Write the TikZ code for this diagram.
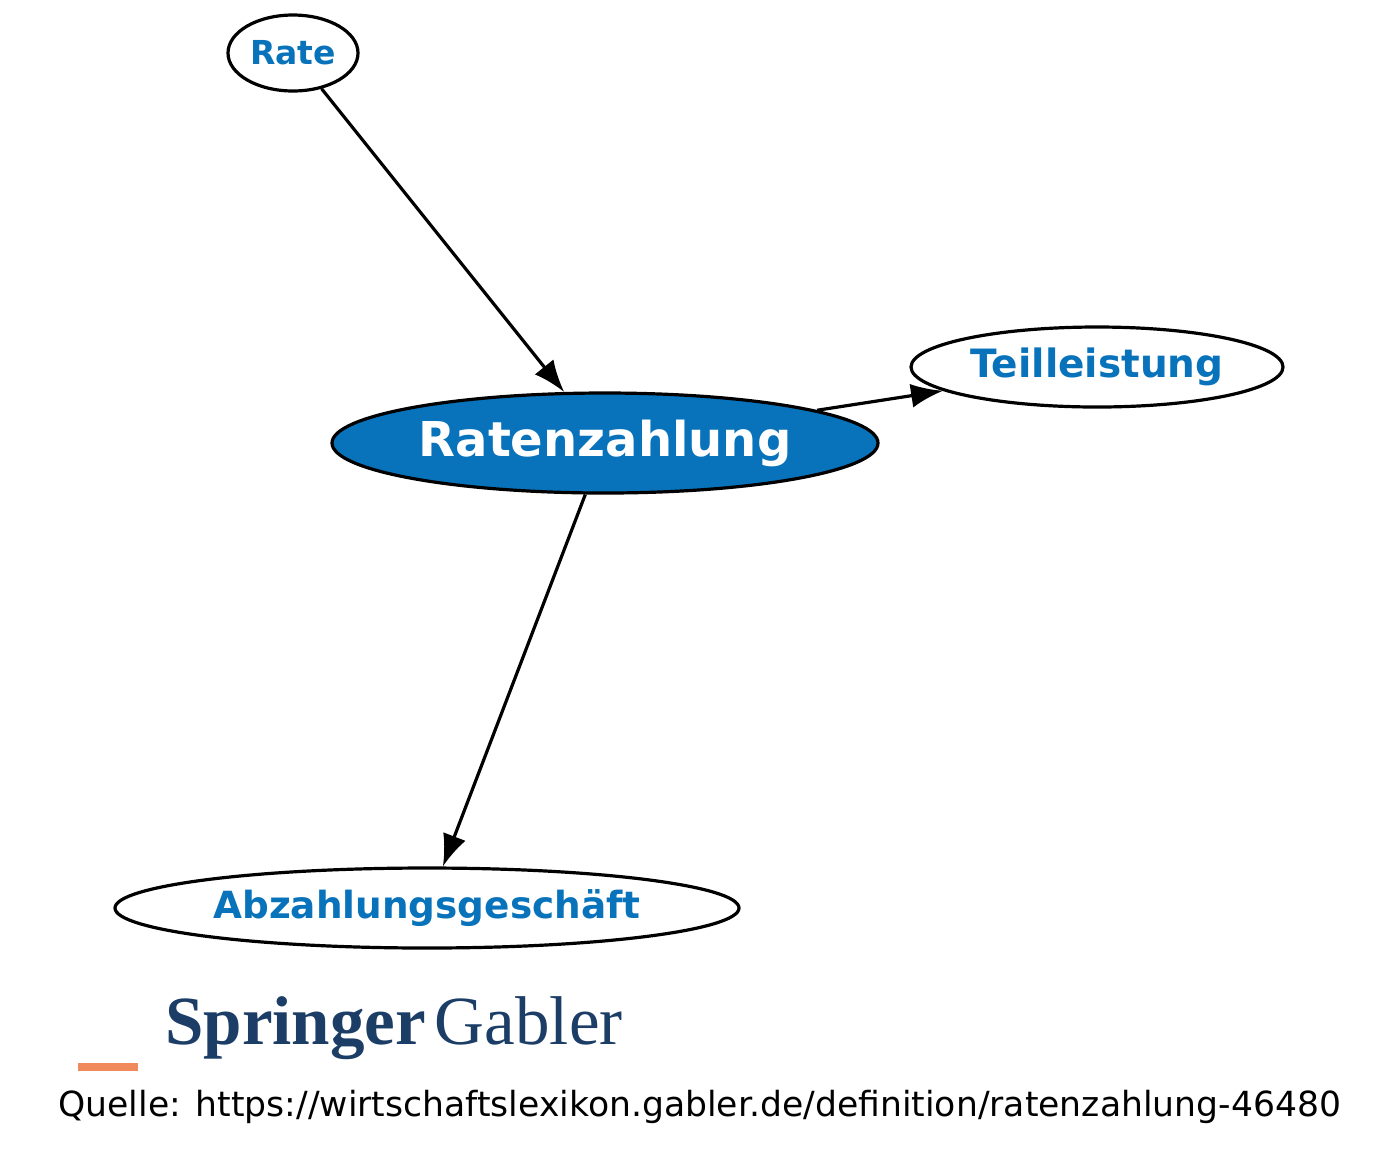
\documentclass[tikz,border=0pt]{standalone}
\usepackage{fontspec}
\setmainfont{DejaVu Sans}
\newfontfamily\logofont{Liberation Serif}
\usetikzlibrary{shapes.geometric, arrows.meta}
\definecolor{gablerblue}{HTML}{0873BB}
\definecolor{springerblue}{HTML}{1B3D66}
\definecolor{springerorange}{HTML}{F08A5D}
\tikzstyle{concept}=[ellipse, draw, line width=1.6pt, inner sep=0pt, font=\bfseries, text=gablerblue, fill=white]
\tikzstyle{arrow}=[-{Latex[length=16pt,width=12pt]}, line width=1.6pt]
\begin{document}
\begin{tikzpicture}[x=0.5pt, y=-0.5pt]
  \useasboundingbox (0,0) rectangle (1400,1169);
  \node[concept, minimum width=65pt, minimum height=38pt, font=\fontsize{16.5}{19}\bfseries] (rate) at (293,53) {Rate};
  \node[concept, minimum width=273pt, minimum height=50pt, fill=gablerblue, text=white, font=\fontsize{24}{28}\bfseries] (ratenzahlung) at (605,443) {Ratenzahlung};
  \node[concept, minimum width=186pt, minimum height=40pt, font=\fontsize{19.5}{22}\bfseries] (teilleistung) at (1097,367) {Teilleistung};
  \node[concept, minimum width=312pt, minimum height=40pt, font=\fontsize{18.7}{22}\bfseries] (abzahlung) at (427,908) {Abzahlungsgeschäft};
  \draw[arrow] (rate) -- (ratenzahlung);
  \draw[arrow] (ratenzahlung) -- (teilleistung);
  \draw[arrow] (ratenzahlung) -- (abzahlung);
  % logo
  \node[anchor=west, inner sep=0pt, text=springerblue, font=\logofont\fontsize{34.5}{38}\selectfont] (springer) at (165,1028) {\textbf{Springer}};
  \node[anchor=base west, inner sep=0pt, text=springerblue, font=\logofont\fontsize{34.5}{38}\selectfont, xshift=4pt] (gabler) at (springer.base east) {Gabler};
  \fill[springerorange] (78,1063) rectangle (138,1071);
  \node[anchor=west, inner sep=0pt, font=\fontsize{17.3}{20}\selectfont] (quelle) at (58,1107) {Quelle: https://wirtschaftslexikon.gabler.de/definition/ratenzahlung-46480};
\end{tikzpicture}
\end{document}
